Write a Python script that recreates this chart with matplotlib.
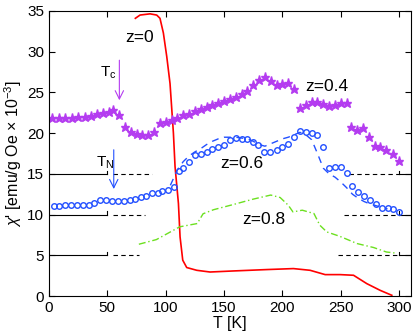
import matplotlib
matplotlib.use("Agg")
import matplotlib.pyplot as plt

plt.rcParams['font.family'] = ['Liberation Sans', 'DejaVu Sans']
plt.rcParams['mathtext.fontset'] = 'custom'
plt.rcParams['mathtext.rm'] = 'Liberation Sans'
plt.rcParams['mathtext.it'] = 'Liberation Sans:italic'

# z=0.4 (stars)
T_z04 = [3, 9, 14, 20, 25, 31, 36, 41, 46, 51, 55, 60, 65, 70, 75, 80, 85, 90, 95, 100,
         105, 110, 115, 120, 125, 130, 135, 140, 145, 150, 155, 160, 165, 170, 175, 180,
         185, 190, 195, 200, 205, 210, 215, 220, 225, 230, 235, 240, 245, 250, 255,
         259, 264, 269, 274, 279, 284, 289, 295, 300]
chi_z04 = [21.8, 21.8, 21.8, 21.9, 21.95, 22.0, 22.15, 22.3, 22.45, 22.6, 22.85, 22.2,
           20.7, 20.15, 19.9, 19.75, 19.8, 20.15, 21.2, 21.4, 21.6, 21.85, 22.2, 22.4,
           22.7, 22.95, 23.2, 23.45, 23.75, 24.0, 24.25, 24.5, 24.8, 25.2, 25.9, 26.5,
           26.9, 26.45, 25.9, 26.0, 26.2, 25.4, 23.05, 23.45, 23.85, 23.8, 23.6, 23.35,
           23.45, 23.65, 23.65, 20.8, 20.4, 20.6, 19.5, 18.4, 18.3, 17.9, 17.5, 16.6]

# z=0.6 (circles)
T_z06 = [4, 9, 14, 19, 24, 29, 34, 39, 44, 49, 54, 59, 64, 69, 74, 79, 83, 88, 93, 97,
         102, 107, 111, 115, 120, 125, 130, 135, 140, 145, 150, 155, 160, 165, 170, 175,
         179, 184, 189, 195, 200, 205, 210, 215, 220, 225, 230, 235, 240, 245, 250, 255,
         260, 265, 270, 275, 280, 285, 290, 295, 300]
chi_z06 = [11.0, 11.1, 11.15, 11.15, 11.15, 11.15, 11.23, 11.44, 11.77, 11.77, 11.65,
           11.65, 11.69, 11.77, 11.94, 12.18, 12.3, 12.6, 12.7, 12.84, 13.0, 13.4, 15.3,
           15.67, 16.5, 17.3, 17.5, 17.7, 18.0, 18.25, 18.5, 19.15, 19.36, 19.27, 19.23,
           18.95, 18.5, 17.7, 17.7, 17.9, 18.3, 18.7, 19.5, 20.26, 20.17, 20.05, 19.77,
           18.33, 15.75, 15.8, 15.87, 15.05, 13.5, 12.8, 12.26, 11.77, 11.24, 10.82,
           10.75, 10.63, 10.33]

# z=0.6 dashed
T_z06d = [104, 110, 115, 120, 125, 130, 135, 140, 145, 150, 155, 160, 165, 170, 175, 180,
          185, 190, 195, 200, 205, 210, 215, 220, 225, 230, 235, 240, 245, 250, 255, 260,
          265, 270, 275, 280, 290]
chi_z06d = [13.6, 15.5, 16.5, 17.2, 17.7, 18.1, 18.6, 19.0, 19.3, 19.5, 19.5, 19.5, 19.4,
            19.3, 19.0, 18.6, 18.4, 18.7, 19.0, 19.3, 19.5, 19.8, 20.1, 19.8, 19.2, 17.5,
            15.7, 15.0, 14.6, 14.0, 13.3, 12.5, 12.0, 11.6, 11.3, 11.1, 10.7]

# z=0.8 (dash-dot)
T_z08 = [77, 92, 112, 127, 132, 141, 158, 175, 190, 198, 205, 209, 217, 227, 232, 238,
         249, 264, 278, 289, 296]
chi_z08 = [6.36, 6.93, 8.5, 8.9, 10.1, 10.6, 11.24, 11.9, 12.4, 12.1, 11.15, 10.33, 10.54,
           10.13, 8.7, 7.87, 7.34, 6.44, 5.96, 5.41, 5.29]

# z=0 (solid red)
T_z0 = [74, 78, 86.6, 92.3, 95.1, 98, 100.9, 103.7, 106.6, 108, 110.9, 112.3, 114.6, 118,
        126.6, 138, 158, 186.6, 209.4, 223.7, 236.6, 249.4, 260.9, 272.3, 283.7, 293.7]
chi_z0 = [34.1, 34.5, 34.65, 34.5, 34.1, 32.3, 29.4, 26.1, 20.0, 15.9, 11.36, 7.26, 4.4,
          3.5, 3.16, 2.95, 3.08, 3.25, 3.37, 3.16, 2.63, 2.63, 2.55, 1.52, 0.7, 0.09]

# reference baselines
base_levels = [15, 10, 5]
base_left_dash_end = [88, 82, 77]
base_right_dash_start = [257, 253, 248]

x_ticks = [0, 50, 100, 150, 200, 250, 300]
y_ticks = [0, 5, 10, 15, 20, 25, 30, 35]

star_c = '#B43CF0'
blue_c = '#2350FF'
green_c = '#6CE020'

fig = plt.figure(figsize=(4.15, 3.33), dpi=100)
ax = fig.add_axes([0.118, 0.111, 0.872, 0.856])

for lvl, le, rs in zip(base_levels, base_left_dash_end, base_right_dash_start):
    ax.plot([0, 50], [lvl, lvl], color='k', lw=0.8)
    ax.plot([55, le], [lvl, lvl], color='k', lw=0.8, ls=(0, (4, 3)))
    ax.plot([rs, 300], [lvl, lvl], color='k', lw=0.8, ls=(0, (4, 3)))
    ax.plot([300, 310], [lvl, lvl], color='k', lw=0.8)
    ax.plot([50, 50], [lvl, lvl + 0.4], color='k', lw=0.8)
    ax.plot([300, 300], [lvl, lvl + 0.4], color='k', lw=0.8)

ax.plot(T_z0, chi_z0, color='red', lw=1.2)
ax.plot(T_z08, chi_z08, color=green_c, lw=1.0, ls=(0, (5, 2, 1, 2)))
ax.plot(T_z06d, chi_z06d, color=blue_c, lw=1.0, ls=(0, (5, 4)))
ax.plot(T_z06, chi_z06, ls='none', marker='o', ms=4.0, mfc='none', mec=blue_c, mew=1.0)
ax.plot(T_z04, chi_z04, ls='none', marker='*', ms=6.8, color=star_c, mec=star_c)

# arrows
ax.annotate('', xy=(60.3, 23.7), xytext=(60.3, 29.3),
            arrowprops=dict(arrowstyle='->,head_length=0.6,head_width=0.3', color=star_c, lw=0.8))
ax.annotate('', xy=(55.5, 12.8), xytext=(55.5, 18.3),
            arrowprops=dict(arrowstyle='->,head_length=0.6,head_width=0.3', color=blue_c, lw=0.8))
ax.text(44, 27.4, r'T$_\mathregular{c}$', fontsize=11, ha='left', va='center')
ax.text(40, 16.4, r'T$_\mathregular{N}$', fontsize=11, ha='left', va='center')

ax.text(78, 31.8, 'z=0', fontsize=12.5, ha='center', va='center')
ax.text(238, 25.7, 'z=0.4', fontsize=12.5, ha='center', va='center')
ax.text(165, 16.3, 'z=0.6', fontsize=12.5, ha='center', va='center')
ax.text(184, 9.4, 'z=0.8', fontsize=12.5, ha='center', va='center')

ax.set_xlim(0, 310)
ax.set_ylim(0, 35)
ax.set_xticks(x_ticks)
ax.set_yticks(y_ticks)
ax.tick_params(direction='in', top=True, right=True, labelsize=11, length=4, width=0.8)
for s in ax.spines.values():
    s.set_linewidth(0.8)
ax.set_xlabel('T [K]', fontsize=11.5, labelpad=1)
ax.set_ylabel(r"$\chi$' [emu/g Oe $\times$ 10$^{-3}$]", fontsize=11.5, labelpad=2)

fig.savefig('out.png', dpi=100)
